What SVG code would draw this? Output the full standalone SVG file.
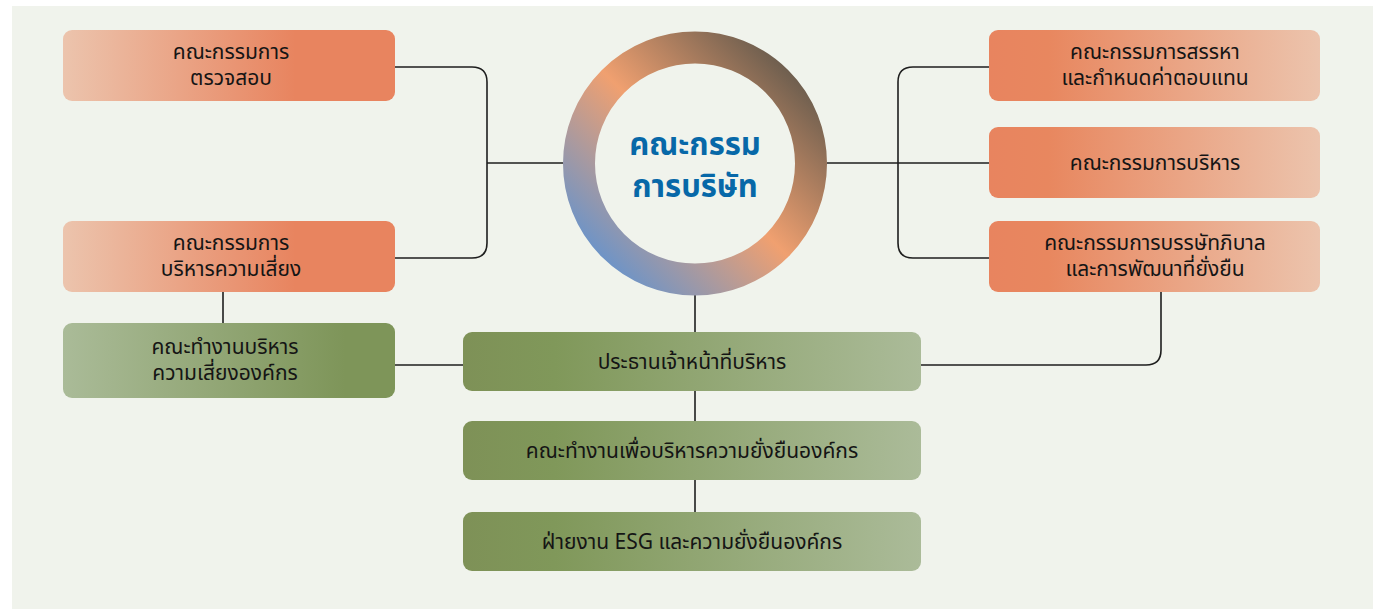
<svg xmlns="http://www.w3.org/2000/svg" width="1373" height="611" viewBox="0 0 1373 611">
<defs>
<linearGradient id="orL" x1="0" y1="0" x2="1" y2="0">
<stop offset="0" stop-color="#ecc4ad"/>
<stop offset="0.7" stop-color="#e8845f"/>
<stop offset="1" stop-color="#e8845f"/>
</linearGradient>
<linearGradient id="orR" x1="0" y1="0" x2="1" y2="0">
<stop offset="0" stop-color="#e8845f"/>
<stop offset="0.18" stop-color="#e8875f"/>
<stop offset="1" stop-color="#ecc4ad"/>
</linearGradient>
<linearGradient id="grL" x1="0" y1="0" x2="1" y2="0">
<stop offset="0" stop-color="#aabb98"/>
<stop offset="0.85" stop-color="#7e9559"/>
<stop offset="1" stop-color="#7e9559"/>
</linearGradient>
<linearGradient id="grR" x1="0" y1="0" x2="1" y2="0">
<stop offset="0" stop-color="#7e9157"/>
<stop offset="0.2" stop-color="#80985a"/>
<stop offset="1" stop-color="#abbb99"/>
</linearGradient>
<linearGradient id="ring" x1="1" y1="0" x2="0" y2="1">
<stop offset="0.1" stop-color="#6f5f4f"/>
<stop offset="0.5" stop-color="#f0a070"/>
<stop offset="0.9" stop-color="#6f94c6"/>
</linearGradient>
<style>
.bx{rx:9;ry:9}
.t{font-family:"Noto Sans Thai","Noto Sans","Liberation Sans",sans-serif;font-size:21px;fill:#151515;text-anchor:middle}
.ct{font-family:"Noto Sans Thai","Noto Sans","Liberation Sans",sans-serif;font-size:31px;font-weight:bold;fill:#0768a8;text-anchor:middle}
.ln{fill:none;stroke:#1e1e1e;stroke-width:1.6}
</style>
</defs>
<rect x="0" y="0" width="1373" height="611" fill="#ffffff"/>
<rect x="12" y="6" width="1361" height="603" fill="#f0f3ec"/>
<g id="connectors">
<path class="ln" d="M395 67 H472 Q487 67 487 82 V243 Q487 258 472 258 H395"/>
<path class="ln" d="M487 163 H563"/>
<path class="ln" d="M989 67 H913 Q898 67 898 82 V243 Q898 258 913 258 H989"/>
<path class="ln" d="M827 163 H989"/>
<path class="ln" d="M1161 292 V350 Q1161 365 1146 365 H921"/>
<path class="ln" d="M395 365 H463"/>
<path class="ln" d="M223 292 V323"/>
<path class="ln" d="M695 295 V332"/>
<path class="ln" d="M695 391 V421"/>
<path class="ln" d="M695 480 V512"/>
</g>
<g id="board">
<circle cx="695" cy="163.5" r="116" fill="none" stroke="url(#ring)" stroke-width="32"/>
<text class="ct" x="695" y="155">คณะกรรม</text>
<text class="ct" x="695" y="197">การบริษัท</text>
</g>
<g id="audit">
<rect class="bx" x="63" y="30" width="332" height="71" fill="url(#orL)"/>
<text class="t" x="231" y="59">คณะกรรมการ</text>
<text class="t" x="231" y="85">ตรวจสอบ</text>
</g>
<g id="risk">
<rect class="bx" x="63" y="221" width="332" height="71" fill="url(#orL)"/>
<text class="t" x="231" y="250">คณะกรรมการ</text>
<text class="t" x="231" y="276">บริหารความเสี่ยง</text>
</g>
<g id="riskwg">
<rect class="bx" x="63" y="323" width="332" height="75" fill="url(#grL)"/>
<text class="t" x="225" y="354">คณะทำงานบริหาร</text>
<text class="t" x="225" y="380">ความเสี่ยงองค์กร</text>
</g>
<g id="nomination">
<rect class="bx" x="989" y="30" width="331" height="71" fill="url(#orR)"/>
<text class="t" x="1155" y="59">คณะกรรมการสรรหา</text>
<text class="t" x="1155" y="85">และกำหนดค่าตอบแทน</text>
</g>
<g id="executive">
<rect class="bx" x="989" y="127" width="331" height="71" fill="url(#orR)"/>
<text class="t" x="1155" y="170">คณะกรรมการบริหาร</text>
</g>
<g id="governance">
<rect class="bx" x="989" y="221" width="331" height="71" fill="url(#orR)"/>
<text class="t" x="1155" y="250">คณะกรรมการบรรษัทภิบาล</text>
<text class="t" x="1155" y="276">และการพัฒนาที่ยั่งยืน</text>
</g>
<g id="ceo">
<rect class="bx" x="463" y="332" width="458" height="59" fill="url(#grR)"/>
<text class="t" x="692" y="369">ประธานเจ้าหน้าที่บริหาร</text>
</g>
<g id="sdwg">
<rect class="bx" x="463" y="421" width="458" height="59" fill="url(#grR)"/>
<text class="t" x="692" y="458">คณะทำงานเพื่อบริหารความยั่งยืนองค์กร</text>
</g>
<g id="esg">
<rect class="bx" x="463" y="512" width="458" height="59" fill="url(#grR)"/>
<text class="t" x="692" y="549">ฝ่ายงาน ESG และความยั่งยืนองค์กร</text>
</g>
</svg>
